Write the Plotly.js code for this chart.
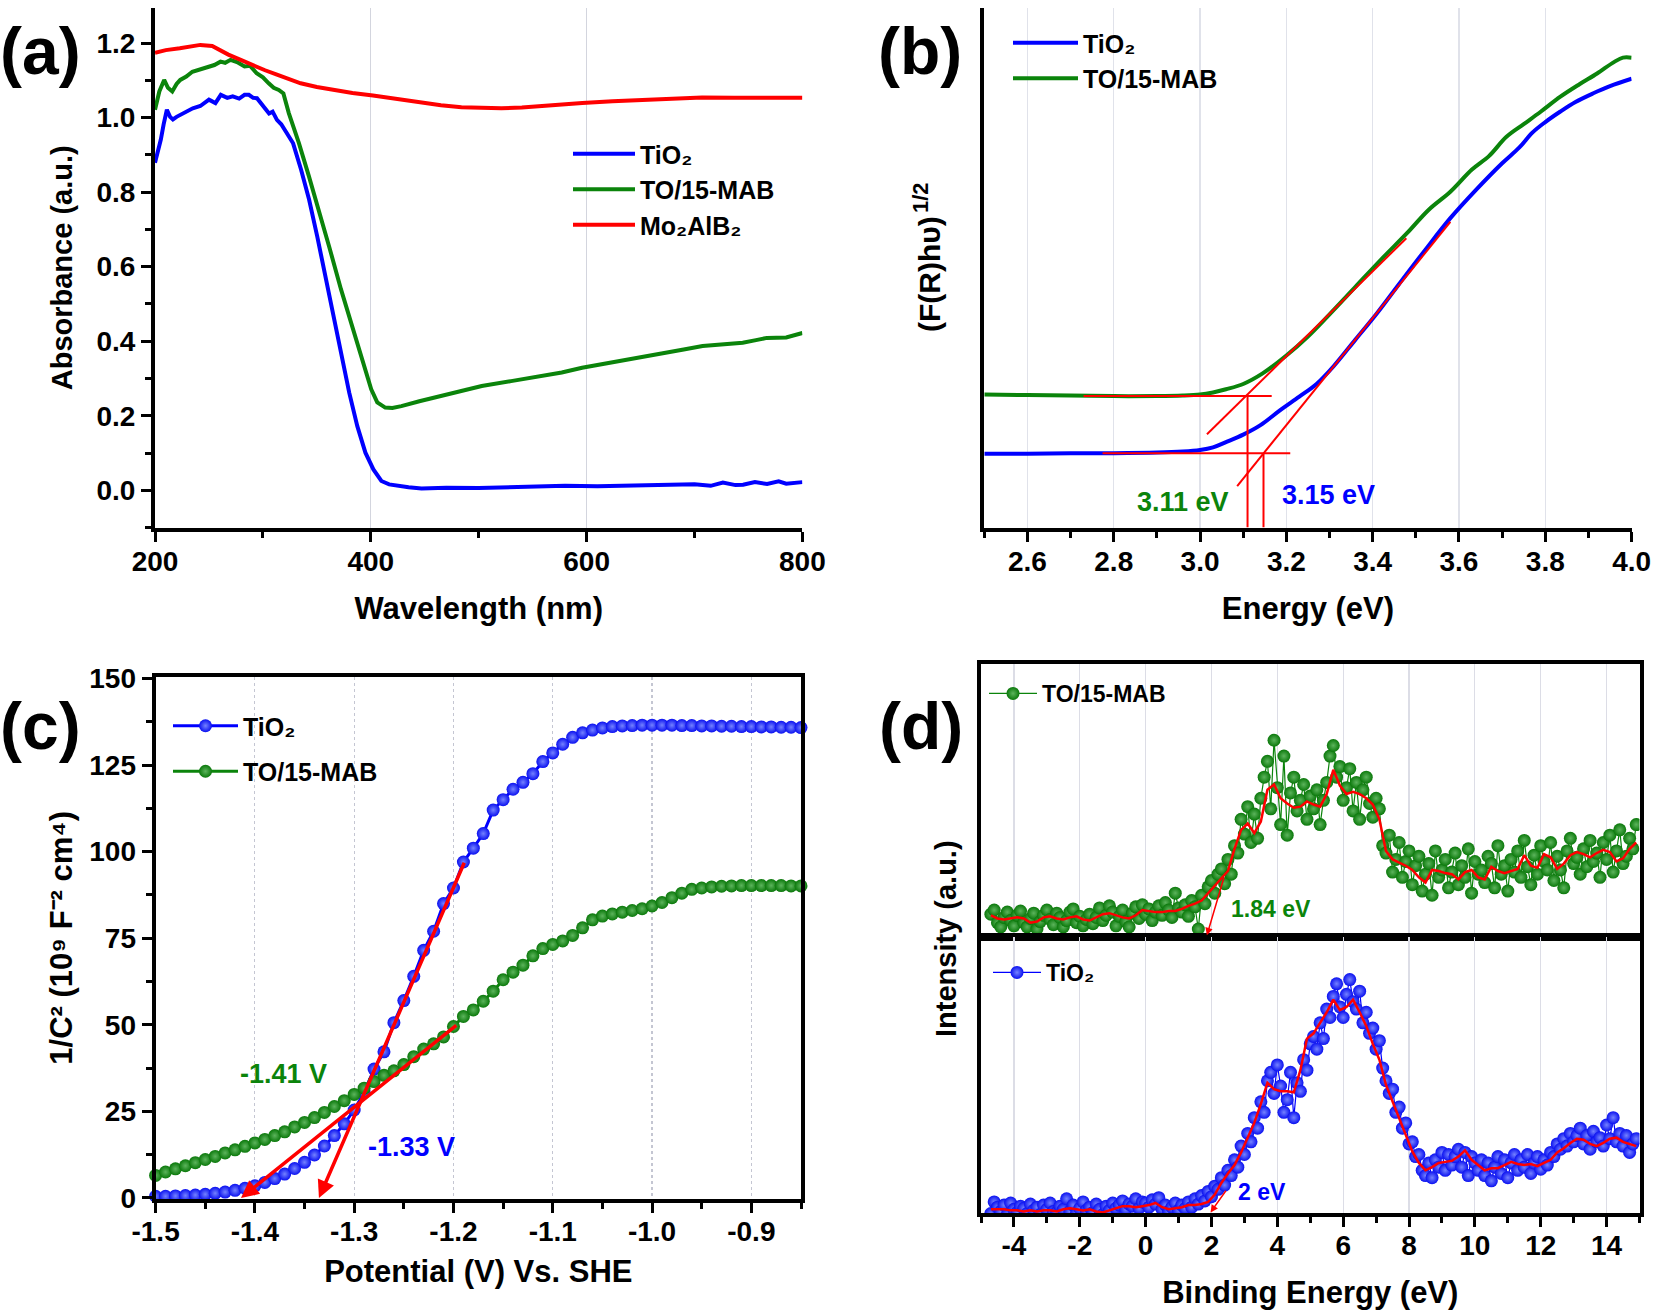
<!DOCTYPE html>
<html><head><meta charset="utf-8">
<script src="https://cdn.plot.ly/plotly-3.0.1.min.js"></script>
<style>html,body{margin:0;padding:0;background:#fff}#chart{width:1654px;height:1315px}</style>
</head><body><div id="chart"></div>
<script>
// ---------- (a) UV-vis absorbance ----------
const wlTiO2 = [200,203,205.4,208,211,214,216.6,220,224,230,235,242,250,256,261,267,272,278,283,287,291,294.5,300,305.7,309,313,317,320.5,328,335.4,342.8,350.3,357.7,365.2,372.6,380,387.5,395,402.4,409.8,417,424.7,435,447,470,500,521.5,550,580,610,640,670.5,700,715,726.3,738,745,756,767.3,778,785,800];
const absTiO2 = [0.879,0.913,0.941,0.982,1.021,1.002,0.995,1.002,1.008,1.016,1.025,1.031,1.048,1.039,1.061,1.053,1.057,1.051,1.061,1.061,1.053,1.052,1.031,1.011,1.016,0.994,0.982,0.967,0.931,0.860,0.780,0.682,0.574,0.466,0.360,0.262,0.172,0.101,0.056,0.025,0.016,0.012,0.008,0.005,0.007,0.006,0.008,0.010,0.012,0.011,0.013,0.014,0.016,0.012,0.021,0.014,0.015,0.022,0.017,0.024,0.018,0.022];
const wlMAB = [200,204,208.5,212,216,220,223.4,229,234.6,242,249.5,255,260.7,265,270,276,283,288,294.2,300,305.4,310,314.7,319,324,333.3,342.6,352,361.3,372.4,383.6,393,400.4,406,413.4,420,428.3,445,465.6,485,502.8,530,558.6,577,595.8,615,633,650,670.3,690,707.5,725,744.7,757,767,785,800];
const absMAB = [1.021,1.070,1.101,1.080,1.070,1.090,1.101,1.110,1.123,1.129,1.137,1.141,1.150,1.147,1.155,1.149,1.137,1.139,1.119,1.108,1.092,1.080,1.074,1.065,1.012,0.932,0.843,0.753,0.655,0.539,0.432,0.343,0.271,0.236,0.222,0.221,0.226,0.239,0.253,0.267,0.280,0.293,0.306,0.316,0.329,0.339,0.351,0.359,0.369,0.378,0.387,0.391,0.396,0.403,0.409,0.410,0.422];
const wlMo2AlB2 = [200,210,223,235,242,253,268,280,290,302,313,325,335,350,365,383,402,425,447,465,484,503,521,540,558,577,596,624,652,680,707,737,767,800];
const absMo2AlB2 = [1.174,1.181,1.186,1.192,1.195,1.192,1.169,1.154,1.141,1.127,1.115,1.102,1.092,1.082,1.074,1.066,1.059,1.049,1.039,1.033,1.028,1.026,1.025,1.027,1.030,1.034,1.039,1.044,1.048,1.051,1.054,1.053,1.052,1.053];

// ---------- (b) Tauc plot ----------
const energyTiO2 = [2.5,2.6,2.7,2.8,2.9,2.96,3.0,3.03,3.06,3.1,3.14,3.185,3.23,3.27,3.31,3.36,3.41,3.46,3.52,3.58,3.64,3.7,3.74,3.77,3.8,3.835,3.87,3.91,3.95,4.0];
const taucTiO2 = [70,70,70.5,70.5,71,72,73.5,76,81,88,97,111,124,136,153,178,203,230,262,293,320,345,360,374,384,394,403,411,418,425];
const energyMAB = [2.5,2.6,2.7,2.8,2.9,2.96,3.0,3.03,3.06,3.1,3.145,3.2,3.25,3.3,3.36,3.42,3.48,3.53,3.58,3.63,3.67,3.71,3.75,3.79,3.835,3.88,3.92,3.96,3.98,4.0];
const taucMAB = [126,125.5,125,124.5,124.5,125,126,128,131,136,146,163,181,202,228,254,279,301,318,339,352,370,382,394,408,420,430,441,445,445];
const baseMABX = [2.73,3.166], baseMABY = [124.5,124.5];
const baseTiO2X = [2.774,3.209], baseTiO2Y = [70.3,70.3];
const tanMABX = [3.016,3.478], tanMABY = [88.4,274];
const tanTiO2X = [3.086,3.58], tanTiO2Y = [39.3,289.6];
const dropMABX = [3.11,3.11], dropMABY = [124.5,0];
const dropTiO2X = [3.147,3.147], dropTiO2Y = [70.3,0];
const energyTicks = [2.6,2.8,3.0,3.2,3.4,3.6,3.8,4.0];

// ---------- (c) Mott-Schottky ----------
const potential = [-1.50,-1.49,-1.48,-1.47,-1.46,-1.45,-1.44,-1.43,-1.42,-1.41,-1.40,-1.39,-1.38,-1.37,-1.36,-1.35,-1.34,-1.33,-1.32,-1.31,-1.30,-1.29,-1.28,-1.27,-1.26,-1.25,-1.24,-1.23,-1.22,-1.21,-1.20,-1.19,-1.18,-1.17,-1.16,-1.15,-1.14,-1.13,-1.12,-1.11,-1.10,-1.09,-1.08,-1.07,-1.06,-1.05,-1.04,-1.03,-1.02,-1.01,-1.00,-0.99,-0.98,-0.97,-0.96,-0.95,-0.94,-0.93,-0.92,-0.91,-0.90,-0.89,-0.88,-0.87,-0.86,-0.85];
const msTiO2 = [0.5,0.5,0.6,0.7,0.85,1.05,1.35,1.7,2.2,2.8,3.5,4.5,5.6,6.9,8.5,10.3,12.4,15,18,21.4,25.4,30.5,37.2,42.2,50.6,57,64,71.5,77,85,89.5,97,101,105.2,112,115,118,120,122.5,126,128.5,131,133,134.3,135.1,135.7,136.1,136.3,136.4,136.5,136.5,136.5,136.5,136.4,136.4,136.3,136.3,136.2,136.2,136.1,136.1,136.0,136.0,135.9,135.9,135.8];
const msMAB = [6.5,7.5,8.4,9.3,10.2,11.1,12.0,13.0,13.9,14.9,15.9,16.9,18.0,19.1,20.5,21.8,23.2,24.7,26.4,28.1,29.9,31.7,33.6,35.4,36.7,38.5,40.8,43.0,44.5,46.5,49.5,52.4,54.3,56.8,59.7,63.0,65.2,67.2,69.9,72.0,73.2,74.2,75.8,78.0,80.3,81.4,82.0,82.5,83.0,83.5,84.3,85.3,86.7,88.0,89.1,89.5,89.8,90.0,90.1,90.2,90.2,90.2,90.2,90.2,90.1,90.1];
const fitTiO2X = [-1.1885,-1.3355], fitTiO2Y = [97.2,0];
const fitMABX = [-1.1957,-1.414], fitMABY = [50.2,0];
const potentialTickVals = [-1.5,-1.4,-1.3,-1.2,-1.1,-1.0,-0.9];
const potentialTickText = ['-1.5','-1.4','-1.3','-1.2','-1.1','-1.0','-0.9'];

// ---------- (d) VB-XPS ----------
const bindingEnergy = [-4.7,-4.6,-4.5,-4.4,-4.3,-4.2,-4.1,-4.0,-3.9,-3.8,-3.7,-3.6,-3.5,-3.4,-3.3,-3.2,-3.1,-3.0,-2.9,-2.8,-2.7,-2.6,-2.5,-2.4,-2.3,-2.2,-2.1,-2.0,-1.9,-1.8,-1.7,-1.6,-1.5,-1.4,-1.3,-1.2,-1.1,-1.0,-0.9,-0.8,-0.7,-0.6,-0.5,-0.4,-0.3,-0.2,-0.1,0.0,0.1,0.2,0.3,0.4,0.5,0.6,0.7,0.8,0.9,1.0,1.1,1.2,1.3,1.4,1.5,1.6,1.7,1.8,1.9,2.0,2.1,2.2,2.3,2.4,2.5,2.6,2.7,2.8,2.9,3.0,3.1,3.2,3.3,3.4,3.5,3.6,3.7,3.8,3.9,4.0,4.1,4.2,4.3,4.4,4.5,4.6,4.7,4.8,4.9,5.0,5.1,5.2,5.3,5.4,5.5,5.6,5.7,5.8,5.9,6.0,6.1,6.2,6.3,6.4,6.5,6.6,6.7,6.8,6.9,7.0,7.1,7.2,7.3,7.4,7.5,7.6,7.7,7.8,7.9,8.0,8.1,8.2,8.3,8.4,8.5,8.6,8.7,8.8,8.9,9.0,9.1,9.2,9.3,9.4,9.5,9.6,9.7,9.8,9.9,10.0,10.1,10.2,10.3,10.4,10.5,10.6,10.7,10.8,10.9,11.0,11.1,11.2,11.3,11.4,11.5,11.6,11.7,11.8,11.9,12.0,12.1,12.2,12.3,12.4,12.5,12.6,12.7,12.8,12.9,13.0,13.1,13.2,13.3,13.4,13.5,13.6,13.7,13.8,13.9,14.0,14.1,14.2,14.3,14.4,14.5,14.6,14.7,14.8,14.9];
const vbMAB = [20,24,12,8,17,22,14,9,19,23, 12,8,16,21,6,13,19,24,15,10, 21,17,8,14,22,25,12,18,9,15, 20,11,17,26,14,19,28,22,9,18, 24,13,8,21,27,16,29,20,25,14, 22,28,19,31,24,17,40,26,22,29, 18,33,27,6,38,30,46,52,40,58, 63,49,72,58,85,78,110,96,122,88, 115,92,130,150,165,120,185,140,105,170, 95,135,150,118,128,143,110,132,120,138, 105,128,145,170,180,150,160,128,140,158, 118,145,110,138,150,125,112,130,120,85, 78,95,60,72,88,55,70,80,48,66, 75,42,58,68,38,80,55,62,72,45, 60,78,48,66,55,82,40,70,58,62, 50,75,68,45,85,58,66,42,72,60, 80,55,90,65,48,76,58,85,70,62, 88,52,75,62,45,80,92,68,74,58, 82,65,90,70,78,55,88,72,95,60, 80,100,68,75,92,82,105];
const vbTiO2 = [4,15,10,6,12,3,14,8,5,11, 9,4,13,7,10,3,12,8,14,6, 5,11,8,18,6,12,4,9,15,7, 10,5,13,8,3,11,7,14,9,12, 16,8,13,11,18,9,15,14,10,17, 13,19,8,12,6,10,14,7,12,9, 15,10,18,13,21,16,25,20,30,27, 38,31,45,40,55,48,68,60,80,72, 95,85,110,100,130,138,118,145,125,100, 112,138,95,128,120,150,140,165,172,160, 185,170,198,190,210,222,200,190,212,226, 205,198,215,185,195,175,180,160,168,142, 130,118,122,100,105,85,90,70,72,58, 60,45,40,52,38,55,48,62,45,60, 50,58,65,48,62,40,58,52,45,55, 40,52,35,48,58,42,55,38,52,60, 45,55,48,60,42,52,58,46,55,50, 62,58,70,65,75,68,80,72,78,85, 70,78,65,82,72,76,68,88,75,95, 72,80,68,78,62,70,75];
const smoothX = [-4.7,-4.5,-4.3,-4.1,-3.9,-3.7,-3.5,-3.3,-3.1,-2.9,-2.7,-2.5,-2.3,-2.1,-1.9,-1.7,-1.5,-1.3,-1.1,-0.9,-0.7,-0.5,-0.3,-0.1,0.1,0.3,0.5,0.7,0.9,1.1,1.3,1.5,1.7,1.9,2.1,2.3,2.5,2.7,2.9,3.1,3.3,3.5,3.7,3.9,4.1,4.3,4.5,4.7,4.9,5.1,5.3,5.5,5.7,5.9,6.1,6.3,6.5,6.7,6.9,7.1,7.3,7.5,7.7,7.9,8.1,8.3,8.5,8.7,8.9,9.1,9.3,9.5,9.7,9.9,10.1,10.3,10.5,10.7,10.9,11.1,11.3,11.5,11.7,11.9,12.1,12.3,12.5,12.7,12.9,13.1,13.3,13.5,13.7,13.9,14.1,14.3,14.5,14.7,14.9];
const smoothMAB = [19,16,15,16,17,16,12,13,17,18, 16,15,17,18,15,14,17,20,21,19, 17,16,19,24,23,22,22,23,23,25, 28,30,33,40,47,53,61,82,100,106, 97,108,138,143,130,125,121,122,127,124, 122,134,157,142,134,136,134,130,124,110, 80,72,69,66,62,55,50,62,61,59, 58,53,60,62,55,53,65,61,59,61, 63,76,66,64,77,74,63,68,76,79, 77,74,78,81,79,70,73,82,88];
const smoothTiO2 = [8,8,8,7,7,6,7,6,7,7, 6,8,9,8,7,8,6,5,7,9, 11,11,10,11,12,14,10,8,9,10, 12,12,13,15,22,33,42,50,62,76, 90,108,128,122,120,120,119,140,170,175, 185,195,207,197,200,207,195,182,165,150, 126,110,94,78,63,52,45,48,52,53, 54,58,64,55,50,45,47,47,50,53, 51,50,51,49,52,55,62,66,71,75, 74,70,68,71,75,76,72,70,68];
const edgeMABX = [2.39,1.86], edgeMABY = [56,0];
const edgeTiO2X = [2.47,1.97], edgeTiO2Y = [27,5];
const bindingTickVals = [-4,-2,0,2,4,6,8,10,12,14];
const bindingTickText = ['-4','-2','0','2','4','6','8','10','12','14'];

// ---------- styling ----------
const FONT = 'Liberation Sans, Arial, Helvetica, sans-serif';
const BLUE = '#0000ff', GREEN = '#0b840b', RED = '#ff0000';
const W = 1654, H = 1315;
const px = v => v / W, py = v => 1 - v / H;
const tickFont = {family: FONT, size: 28, color: '#000', weight: 'bold'};
const xTitleFont = {family: FONT, size: 31, color: '#000', weight: 'bold'};
const yTitleFont = {family: FONT, size: 29, color: '#000', weight: 'bold'};
const legFont = s => ({family: FONT, size: s, color: '#000', weight: 'bold'});
const base = {
  showline: true, linecolor: '#000', linewidth: 4, zeroline: false,
  ticks: 'outside', ticklen: 10, tickwidth: 3, tickcolor: '#000',
  tickfont: tickFont, showgrid: false, fixedrange: true
};
const minorT = (dt, t0) => ({dtick: dt, tick0: t0, ticks: 'outside', ticklen: 6, tickwidth: 3, tickcolor: '#000', showgrid: false});

const blueBall = {color: '#0a10f0', size: 13, gradient: {type: 'radial', color: '#7482ff'}, line: {width: 0}};
const greenBall = {color: '#0a780a', size: 13, gradient: {type: 'radial', color: '#5cb45c'}, line: {width: 0}};

const traces = [
  // (a)
  {x: wlTiO2, y: absTiO2, mode: 'lines', name: 'TiO\u2082', line: {color: BLUE, width: 4}, xaxis: 'x', yaxis: 'y', legend: 'legend'},
  {x: wlMAB, y: absMAB, mode: 'lines', name: 'TO/15-MAB', line: {color: GREEN, width: 4}, xaxis: 'x', yaxis: 'y', legend: 'legend'},
  {x: wlMo2AlB2, y: absMo2AlB2, mode: 'lines', name: 'Mo\u2082AlB\u2082', line: {color: RED, width: 4}, xaxis: 'x', yaxis: 'y', legend: 'legend'},
  // (b)
  {x: energyTiO2, y: taucTiO2, mode: 'lines', name: 'TiO\u2082', line: {color: BLUE, width: 4, shape: 'spline'}, xaxis: 'x2', yaxis: 'y2', legend: 'legend2'},
  {x: energyMAB, y: taucMAB, mode: 'lines', name: 'TO/15-MAB', line: {color: GREEN, width: 4, shape: 'spline'}, xaxis: 'x2', yaxis: 'y2', legend: 'legend2'},
  {x: baseMABX, y: baseMABY, mode: 'lines', line: {color: RED, width: 2}, xaxis: 'x2', yaxis: 'y2', showlegend: false},
  {x: baseTiO2X, y: baseTiO2Y, mode: 'lines', line: {color: RED, width: 2}, xaxis: 'x2', yaxis: 'y2', showlegend: false},
  {x: tanMABX, y: tanMABY, mode: 'lines', line: {color: RED, width: 2}, xaxis: 'x2', yaxis: 'y2', showlegend: false},
  {x: tanTiO2X, y: tanTiO2Y, mode: 'lines', line: {color: RED, width: 2}, xaxis: 'x2', yaxis: 'y2', showlegend: false},
  {x: dropMABX, y: dropMABY, mode: 'lines', line: {color: RED, width: 2}, xaxis: 'x2', yaxis: 'y2', showlegend: false, cliponaxis: false},
  {x: dropTiO2X, y: dropTiO2Y, mode: 'lines', line: {color: RED, width: 2}, xaxis: 'x2', yaxis: 'y2', showlegend: false, cliponaxis: false},
  // (c)
  {x: potential, y: msTiO2, mode: 'lines+markers', name: 'TiO\u2082', legendgroup: 'c1', line: {color: BLUE, width: 3}, marker: blueBall, xaxis: 'x3', yaxis: 'y3', legend: 'legend3', cliponaxis: false},
  {x: potential, y: msMAB, mode: 'lines+markers', name: 'TO/15-MAB', legendgroup: 'c2', line: {color: GREEN, width: 3}, marker: greenBall, xaxis: 'x3', yaxis: 'y3', legend: 'legend3', cliponaxis: false},
  // (d)
  {x: bindingEnergy, y: vbMAB, mode: 'lines+markers', name: 'TO/15-MAB', line: {color: GREEN, width: 1.2}, marker: Object.assign({}, greenBall, {size: 13}), xaxis: 'x4', yaxis: 'y4', legend: 'legend4'},
  {x: smoothX, y: smoothMAB, mode: 'lines', line: {color: RED, width: 2.5}, xaxis: 'x4', yaxis: 'y4', showlegend: false},
  {x: bindingEnergy, y: vbTiO2, mode: 'lines+markers', name: 'TiO\u2082', line: {color: BLUE, width: 1.2}, marker: Object.assign({}, blueBall, {size: 13}), xaxis: 'x5', yaxis: 'y5', legend: 'legend5'},
  {x: smoothX, y: smoothTiO2, mode: 'lines', line: {color: RED, width: 2.5}, xaxis: 'x5', yaxis: 'y5', showlegend: false}
];

const legBase = {bgcolor: 'rgba(0,0,0,0)', borderwidth: 0, xanchor: 'left', yanchor: 'top', itemwidth: 62, tracegroupgap: 0, traceorder: 'normal', itemclick: false, itemdoubleclick: false};

const ann = [];
const label = (t, x, y) => ann.push({text: t, xref: 'paper', yref: 'paper', x: px(x), y: py(y), xanchor: 'center', yanchor: 'middle', showarrow: false, font: {family: FONT, size: 66, color: '#000', weight: 'bold'}});
label('(a)', 40, 51); label('(b)', 920, 51); label('(c)', 40, 726); label('(d)', 921, 726);
const txt = (t, xr, yr, x, y, c, s) => ann.push({text: t, xref: xr, yref: yr, x: x, y: y, xanchor: 'center', yanchor: 'middle', showarrow: false, font: {family: FONT, size: s, color: c, weight: 'bold'}});
txt('3.11 eV', 'x2', 'y2', 2.961, 24.2, GREEN, 27);
txt('3.15 eV', 'x2', 'y2', 3.298, 30.6, BLUE, 27);
txt('-1.41 V', 'x3', 'y3', -1.371, 35.8, GREEN, 27);
txt('-1.33 V', 'x3', 'y3', -1.242, 14.7, BLUE, 27);
txt('1.84 eV', 'x4', 'y4', 3.80, 25, GREEN, 23);
txt('2 eV', 'x5', 'y5', 3.545, 24, BLUE, 23);
const arrow = (xs, ys, xr, yr, w) => ann.push({x: xs[1], y: ys[1], ax: xs[0], ay: ys[0], xref: xr, yref: yr, axref: xr, ayref: yr, text: '', showarrow: true, arrowhead: 2, arrowsize: 1, arrowwidth: w, arrowcolor: RED, standoff: 0, startstandoff: 0});
arrow(fitTiO2X, fitTiO2Y, 'x3', 'y3', 3.5);
arrow(fitMABX, fitMABY, 'x3', 'y3', 3.5);
arrow(edgeMABX, edgeMABY, 'x4', 'y4', 1.5);
arrow(edgeTiO2X, edgeTiO2Y, 'x5', 'y5', 1.5);
// y titles drawn as rotated text where they need free placement
ann.push({text: 'Intensity (a.u.)', xref: 'paper', yref: 'paper', x: px(946), y: py(938), textangle: -90, xanchor: 'center', yanchor: 'middle', showarrow: false, font: yTitleFont});
ann.push({text: '(F(R)h\u03c5)', xref: 'paper', yref: 'paper', x: px(930), y: py(274), textangle: -90, xanchor: 'center', yanchor: 'middle', showarrow: false, font: {family: FONT, size: 30, color: '#000', weight: 'bold'}});
ann.push({text: '1/2', xref: 'paper', yref: 'paper', x: px(920), y: py(197), textangle: -90, xanchor: 'center', yanchor: 'middle', showarrow: false, font: {family: FONT, size: 22, color: '#000', weight: 'bold'}});

const layout = {
  width: W, height: H, margin: {l: 0, r: 0, t: 0, b: 0},
  paper_bgcolor: '#fff', plot_bgcolor: '#fff',
  font: {family: FONT, color: '#000'},
  // (a)
  xaxis: Object.assign({}, base, {domain: [px(155), px(802.4)], anchor: 'y', range: [200, 800], tick0: 200, dtick: 200, ticklabelstandoff: -4,
    minor: minorT(100, 200), showgrid: true, gridcolor: '#d3d5de', gridwidth: 1.2,
    title: {text: 'Wavelength (nm)', font: xTitleFont, standoff: 22}}),
  yaxis: Object.assign({}, base, {domain: [py(527.6), py(8)], anchor: 'x', range: [-0.1, 1.294], tick0: 0, dtick: 0.2, tickformat: '.1f',
    minor: minorT(0.1, 0), title: {text: 'Absorbance (a.u.)', font: yTitleFont, standoff: 16}}),
  // (b)
  xaxis2: Object.assign({}, base, {domain: [px(984.3), px(1631.6)], anchor: 'y2', range: [2.5, 4.0], tickmode: 'array', tickvals: energyTicks, ticktext: energyTicks.map(v => v.toFixed(1)), ticklabelstandoff: -4,
    minor: minorT(0.1, 2.5), showgrid: true, gridcolor: '#e0e2ea', gridwidth: 1.2,
    title: {text: 'Energy (eV)', font: xTitleFont, standoff: 22}}),
  yaxis2: Object.assign({}, base, {domain: [py(527.6), py(8)], anchor: 'x2', range: [0, 492], ticks: '', showticklabels: false}),
  // (c)
  xaxis3: Object.assign({}, base, {domain: [px(155.6), px(801)], anchor: 'y3', range: [-1.5, -0.85], tickmode: 'array', tickvals: potentialTickVals, ticktext: potentialTickText, ticklabelstandoff: -6,
    minor: minorT(0.05, -1.5), mirror: true, showgrid: true, gridcolor: '#c4c6d2', griddash: 'dot', gridwidth: 1.2,
    title: {text: 'Potential (V) Vs. SHE', font: xTitleFont, standoff: 16}}),
  yaxis3: Object.assign({}, base, {domain: [py(1199), py(676.7)], anchor: 'x3', range: [-0.3, 150.5], tick0: 0, dtick: 25,
    minor: minorT(12.5, 0), mirror: true,
    title: {text: '1/C\u00b2 (10\u2079 F\u207b\u00b2 cm\u2074)', font: {family: FONT, size: 31, color: '#000', weight: 'bold'}, standoff: 8}}),
  // (d)
  xaxis4: Object.assign({}, base, {domain: [px(981), px(1639.5)], anchor: 'y4', range: [-5, 15], ticks: '', showticklabels: false, mirror: true,
    tickmode: 'array', tickvals: bindingTickVals, showgrid: true, gridcolor: '#dcdde6', gridwidth: 1.2}),
  yaxis4: Object.assign({}, base, {domain: [py(937), py(664)], anchor: 'x4', range: [-1.6, 257.3], ticks: '', showticklabels: false, mirror: true}),
  xaxis5: Object.assign({}, base, {domain: [px(981), px(1639.5)], anchor: 'y5', range: [-5, 15], tickmode: 'array', tickvals: bindingTickVals, ticktext: bindingTickText, ticklabelstandoff: -6,
    minor: minorT(1, -5), mirror: true, showgrid: true, gridcolor: '#dcdde6', gridwidth: 1.2,
    title: {text: 'Binding Energy (eV)', font: xTitleFont, standoff: 23}}),
  yaxis5: Object.assign({}, base, {domain: [py(1213), py(937)], anchor: 'x5', range: [4.5, 266.4], ticks: '', showticklabels: false, mirror: true}),
  legend: Object.assign({}, legBase, {x: px(568), y: py(131), font: legFont(25)}),
  legend2: Object.assign({}, legBase, {x: px(1008), y: py(20), itemwidth: 65, font: legFont(25)}),
  legend3: Object.assign({}, legBase, {x: px(168), y: py(703), itemwidth: 65, traceorder: 'grouped', tracegroupgap: 10, font: legFont(25)}),
  legend4: Object.assign({}, legBase, {x: px(984), y: py(672), itemwidth: 48, font: legFont(23)}),
  legend5: Object.assign({}, legBase, {x: px(988), y: py(951), itemwidth: 48, font: legFont(23)}),
  annotations: ann,
  showlegend: true
};

Plotly.newPlot('chart', traces, layout, {displayModeBar: false, staticPlot: true});
</script></body></html>
